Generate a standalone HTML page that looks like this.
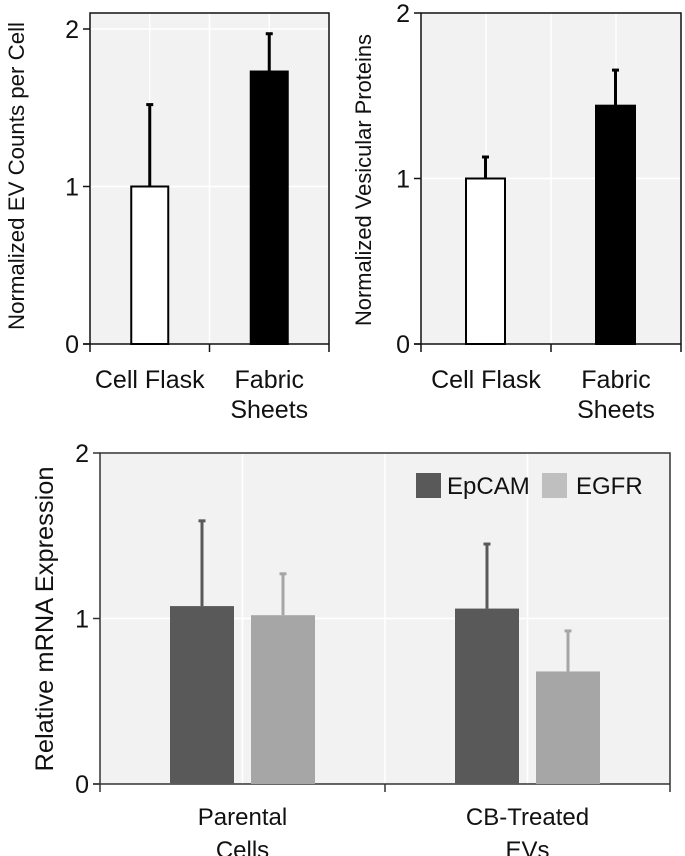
<!DOCTYPE html>
<html><head><meta charset="utf-8"><style>
body{margin:0;background:#fff}
svg{display:block;font-family:"Liberation Sans",sans-serif}
</style></head><body>
<svg id="c" width="685" height="856" viewBox="0 0 685 856" xmlns="http://www.w3.org/2000/svg"></svg>
<script>
const NS="http://www.w3.org/2000/svg";
const svg=document.getElementById('c');
// Chart A data
const catsA=["Cell Flask","Fabric Sheets"];
const valsA=[1.0,1.73];
const errA=[1.52,1.97];
// Chart B data
const catsB=["Cell Flask","Fabric Sheets"];
const valsB=[1.0,1.44];
const errB=[1.13,1.655];
// Chart C data
const catsC=["Parental Cells","CB-Treated EVs"];
const seriesC=["EpCAM","EGFR"];
const epcamC=[1.075,1.06];
const egfrC=[1.02,0.68];
const epcamErrC=[1.59,1.45];
const egfrErrC=[1.27,0.925];
const ticks=["0","1","2"];

function el(tag,attrs,parent,name){const e=document.createElementNS(NS,tag);for(const k in attrs)e.setAttribute(k,attrs[k]);


(parent||svg).appendChild(e);return e;}

function panel(o){
  const g=el('g',{},svg,o.name);
  const y=v=>o.y0-(o.y0-o.y2)*v/2;
  const n=o.cats.length, bw=(o.x1-o.x0)/n;
  const cx=i=>o.x0+bw*(i+0.5);
  el('rect',{x:o.x0,y:o.top,width:o.x1-o.x0,height:o.y0-o.top,fill:'#f2f2f2'},g,'plot-area');
  for(let i=0;i<=n*2;i++){const gx=o.x0+bw*i/2; if(i>0&&i<n*2) el('line',{x1:gx,x2:gx,y1:o.top,y2:o.y0,stroke:'#fff','stroke-width':1.5},g,'v-gridline');}
  ticks.forEach((t,i)=>{const ty=y(+t); if(+t>0) el('line',{x1:o.x0,x2:o.x1,y1:ty,y2:ty,stroke:'#fff','stroke-width':1.5},g,'h-gridline');
    el('line',{x1:o.x0-7,x2:o.x0,y1:ty,y2:ty,stroke:o.axc,'stroke-width':1.5},g,'y-tick');
    const tx=el('text',{x:o.x0-11,y:ty+9,'text-anchor':'end','font-size':o.tfs,fill:'#111'},g,'y-tick-label');tx.textContent=t;});
  el('path',{d:`M${o.x0},${o.y0}V${o.top}H${o.x1}V${o.y0}`,fill:'none',stroke:o.axc,'stroke-width':1.5},g,'plot-border');
  el('line',{x1:o.x0-7,x2:o.x1,y1:o.y0,y2:o.y0,stroke:o.axc,'stroke-width':1.5},g,'x-axis');
  for(let i=0;i<=n;i++){const tx=o.x0+bw*i;el('line',{x1:tx,x2:tx,y1:o.y0,y2:o.y0+8,stroke:o.axc,'stroke-width':1.5},g,'x-tick');}
  o.series.forEach((s,si)=>{
    s.vals.forEach((v,i)=>{
      const bx=cx(i)+s.off-s.w/2;
      el('line',{x1:bx+s.w/2,x2:bx+s.w/2,y1:y(s.err[i]),y2:y(v),stroke:s.ec,'stroke-width':3},g,'error-bar');
      el('line',{x1:bx+s.w/2-3.5,x2:bx+s.w/2+3.5,y1:y(s.err[i]),y2:y(s.err[i]),stroke:s.ec,'stroke-width':3},g,'error-cap');
      el('rect',{x:bx,y:y(v),width:s.w,height:o.y0-y(v),fill:s.fill[i],stroke:s.stroke,'stroke-width':s.stroke=='none'?0:2},g,'bar-'+s.key+'-'+i);
    });
  });
  o.cats.forEach((c,i)=>{
    const lines=o.split(c,i);
    lines.forEach((ln,j)=>{const t=el('text',{x:cx(i),y:o.y0+o.ly+j*o.lh,'text-anchor':'middle','font-size':o.lfs,fill:'#111'},g,'x-label');t.textContent=ln;});
  });
  const yt=el('text',{x:0,y:0,transform:`translate(${o.ytx},${o.yty}) rotate(-90)`,'text-anchor':'middle','font-size':o.yfs,fill:'#111',textLength:o.ytl,lengthAdjust:'spacingAndGlyphs'},g,'y-axis-title');yt.textContent=o.ytitle;
  return {g,y,cx};
}
const splitAB=(c)=>c==="Cell Flask"?["Cell Flask"]:c.split(" ");
panel({name:'chart-ev-counts',x0:90,x1:329,top:13,y0:344,y2:29,cats:catsA,axc:'#111',tfs:25,lfs:25,ly:44,lh:30,split:splitAB,
  series:[{key:'ev',vals:valsA,err:errA,off:0,w:37,fill:['#fff','#000'],stroke:'#000',ec:'#000'}],
  ytitle:'Normalized EV Counts per Cell',ytx:24,yty:176,yfs:22,ytl:308});
panel({name:'chart-vesicular-proteins',x0:421,x1:681,top:13,y0:344,y2:13,cats:catsB,axc:'#111',tfs:25,lfs:25,ly:44,lh:30,split:splitAB,
  series:[{key:'vp',vals:valsB,err:errB,off:-0.5,w:39,fill:['#fff','#000'],stroke:'#000',ec:'#000'}],
  ytitle:'Normalized Vesicular Proteins',ytx:371,yty:180,yfs:22,ytl:292});
const pc=panel({name:'chart-mrna-expression',x0:100,x1:670,top:453,y0:784,y2:453,cats:catsC,axc:'#333',tfs:25,lfs:24,ly:41,lh:33,
  split:(c)=>c==="Parental Cells"?["Parental","Cells"]:["CB-Treated","EVs"],
  series:[{key:'epcam',vals:epcamC,err:epcamErrC,off:-40.5,w:64,fill:['#595959','#595959'],stroke:'none',ec:'#595959'},
          {key:'egfr',vals:egfrC,err:egfrErrC,off:40.5,w:64,fill:['#a6a6a6','#a6a6a6'],stroke:'none',ec:'#a6a6a6'}],
  ytitle:'Relative  mRNA Expression',ytx:53,yty:619,yfs:25,ytl:305});
const lg=el('g',{},pc.g,'legend');
const lc=['#595959','#bfbfbf'], lx=[416,542], ltx=[447,576];
seriesC.forEach((s,i)=>{
  el('rect',{x:lx[i],y:473,width:25,height:25,fill:lc[i]},lg,'legend-swatch-'+s.toLowerCase());
  const t=el('text',{x:ltx[i],y:494,'font-size':24,fill:'#111'},lg,'legend-label-'+s.toLowerCase());t.textContent=s;
});
</script>
</body></html>
